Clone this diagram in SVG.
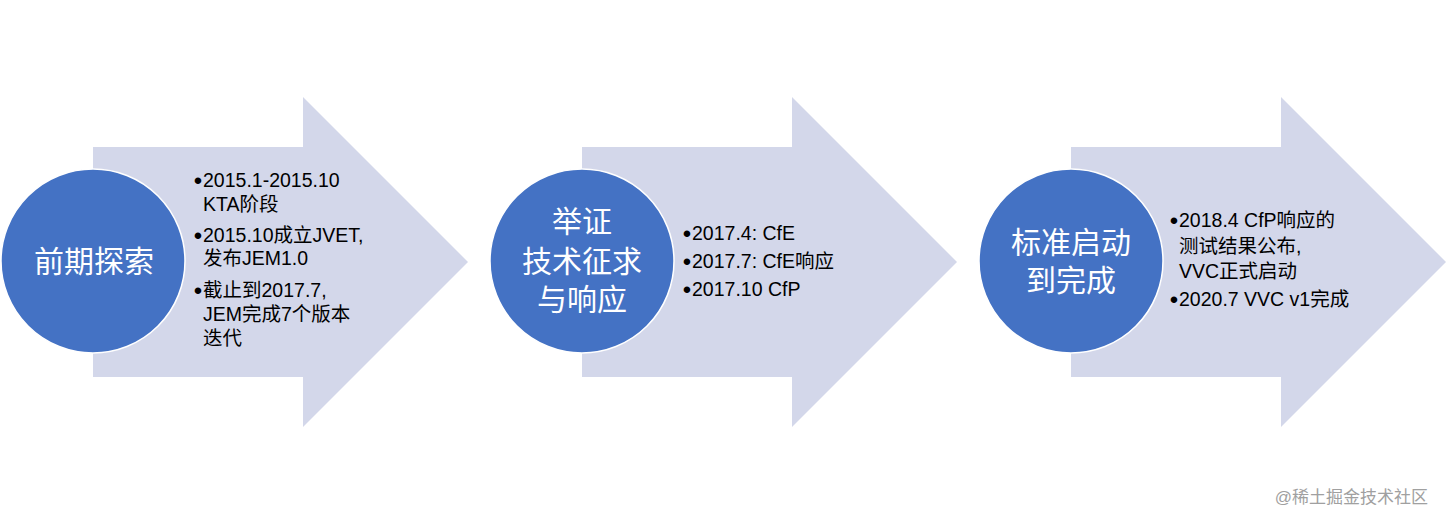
<svg xmlns="http://www.w3.org/2000/svg" width="1446" height="524" viewBox="0 0 1446 524">
<style>
.arrow{fill:#D3D7EA}
.circ{fill:#4472C4;stroke:#FFFFFF;stroke-width:1.5}
.ct{font-family:"Liberation Sans","Noto Sans CJK SC",sans-serif;font-size:30px;fill:#FFFFFF;text-anchor:middle}
.bt{font-family:"Liberation Sans","Noto Sans CJK SC",sans-serif;font-size:19.5px;fill:#000000}
.bu{font-family:"Liberation Sans","Noto Sans CJK SC",sans-serif;font-size:24px;fill:#000000;text-anchor:middle}
.wm{font-family:"Liberation Sans","Noto Sans CJK SC",sans-serif;font-size:17px;fill:#A0A0A0;text-anchor:end}
</style>
<rect width="1446" height="524" fill="#FFFFFF"/>
<g id="stage1">
<path class="arrow" d="M93,147 H303 V97 L468,262 L303,427 V377 H93 Z"/>
<circle class="circ" cx="93" cy="261" r="92"/>
<text class="ct" x="94" y="272">前期探索</text>
<text class="bu" x="198" y="189">•</text>
<text class="bt" x="203" y="187">2015.1-2015.10</text>
<text class="bt" x="203" y="211">KTA阶段</text>
<text class="bu" x="198" y="244">•</text>
<text class="bt" x="203" y="242">2015.10成立JVET,</text>
<text class="bt" x="203" y="265">发布JEM1.0</text>
<text class="bu" x="198" y="299">•</text>
<text class="bt" x="203" y="297">截止到2017.7,</text>
<text class="bt" x="203" y="321">JEM完成7个版本</text>
<text class="bt" x="203" y="345">迭代</text>
</g>
<g id="stage2">
<path class="arrow" d="M582,147 H792 V97 L957,262 L792,427 V377 H582 Z"/>
<circle class="circ" cx="582" cy="261" r="92"/>
<text class="ct" x="582" y="232">举证</text>
<text class="ct" x="582" y="272">技术征求</text>
<text class="ct" x="582" y="310">与响应</text>
<text class="bu" x="687" y="242">•</text>
<text class="bt" x="692" y="240">2017.4: CfE</text>
<text class="bu" x="687" y="270">•</text>
<text class="bt" x="692" y="268">2017.7: CfE响应</text>
<text class="bu" x="687" y="298">•</text>
<text class="bt" x="692" y="296">2017.10 CfP</text>
</g>
<g id="stage3">
<path class="arrow" d="M1071,147 H1281 V97 L1446,262 L1281,427 V377 H1071 Z"/>
<circle class="circ" cx="1071" cy="261" r="92"/>
<text class="ct" x="1071" y="253">标准启动</text>
<text class="ct" x="1071" y="291">到完成</text>
<text class="bu" x="1174" y="229">•</text>
<text class="bt" x="1179" y="227">2018.4 CfP响应的</text>
<text class="bt" x="1179" y="253">测试结果公布,</text>
<text class="bt" x="1179" y="278">VVC正式启动</text>
<text class="bu" x="1174" y="308">•</text>
<text class="bt" x="1179" y="306">2020.7 VVC v1完成</text>
</g>
<g id="connectors"></g>
<text class="wm" x="1428" y="503">@稀土掘金技术社区</text>
</svg>
